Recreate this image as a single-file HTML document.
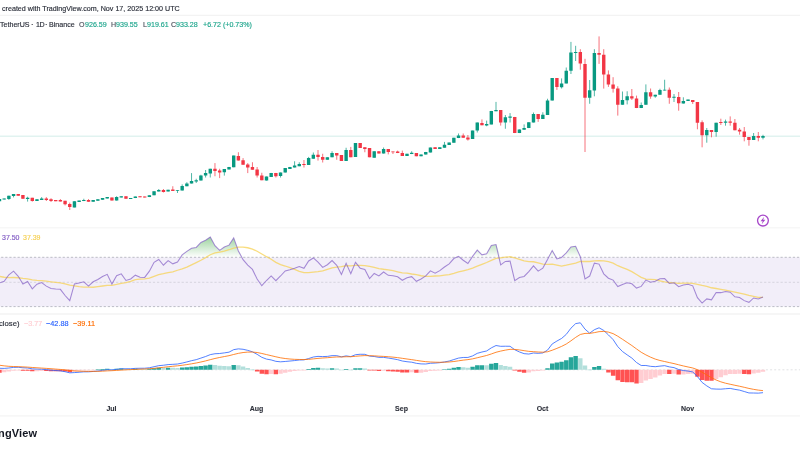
<!DOCTYPE html>
<html><head><meta charset="utf-8">
<style>
html,body{margin:0;padding:0;background:#fff;}
body{width:800px;height:450px;overflow:hidden;position:relative;font-family:"Liberation Sans",sans-serif;color:#131722;}
svg{position:absolute;left:0;top:0;}
.t{position:absolute;white-space:pre;line-height:1;will-change:transform;-webkit-text-stroke:0.15px currentColor;}
</style></head><body>
<svg width="800" height="450" viewBox="0 0 800 450">
<rect x="0" y="0" width="800" height="450" fill="#fff"/>
<line x1="0" y1="15.4" x2="800" y2="15.4" stroke="#F3F3F3" stroke-width="1.2"/>
<line x1="0" y1="227.7" x2="800" y2="227.7" stroke="#F7F7F7" stroke-width="1.6"/>
<line x1="0" y1="314.1" x2="800" y2="314.1" stroke="#F6F6F6" stroke-width="2"/>
<line x1="0" y1="415.9" x2="800" y2="415.9" stroke="#F7F7F7" stroke-width="1.8"/>
<line x1="0" y1="136.2" x2="800" y2="136.2" stroke="#089981" stroke-opacity="0.12" stroke-width="1.5"/>
<path d="M-0.50 199.00V201.30M4.18 198.40V199.50M8.87 195.70V199.90M13.55 194.00V197.40M27.60 196.70V201.60M36.97 199.20V201.00M41.66 197.10V199.90M74.44 201.20V207.40M79.13 200.60V201.90M83.81 198.75V201.10M93.18 200.10V201.75M97.86 199.20V200.80M102.55 198.00V199.80M107.23 197.10V198.60M116.60 196.25V200.60M121.28 196.25V197.50M130.65 198.10V198.75M135.34 196.50V198.10M149.39 195.25V197.10M154.07 191.25V195.25M158.76 189.00V191.50M168.12 189.75V191.50M177.49 190.00V193.00M182.18 184.40V190.60M186.86 182.20V186.25M191.54 173.10V183.50M196.23 178.75V183.00M200.91 174.75V180.60M205.60 170.00V177.50M210.28 168.75V177.50M224.33 169.10V175.60M229.02 166.90V169.40M233.70 155.60V167.25M266.49 176.50V180.60M271.17 172.90V176.90M280.54 172.50V177.50M285.22 168.10V172.60M289.91 166.90V169.00M294.59 161.25V167.50M299.28 162.25V166.25M308.64 156.90V165.00M313.33 152.50V158.75M327.38 157.25V159.75M332.06 151.25V157.25M346.12 147.75V161.00M355.48 143.10V156.90M374.22 151.25V157.75M383.59 147.50V153.60M407.01 153.75V156.00M411.69 151.25V154.10M421.06 154.40V156.25M425.74 151.90V154.60M430.43 147.50V152.50M439.80 147.25V149.00M444.48 141.90V147.75M449.16 142.50V145.00M453.85 137.75V142.75M458.53 133.50V138.10M472.58 130.60V139.00M477.27 122.50V132.50M486.64 120.60V126.25M491.32 110.90V124.40M496.00 101.90V111.25M505.37 115.00V128.75M510.06 113.10V122.50M519.42 129.40V133.10M524.11 124.40V129.75M528.79 122.25V128.10M533.48 112.50V122.50M542.84 112.25V119.00M547.53 98.75V115.00M552.21 78.10V100.60M561.58 78.40V88.50M566.26 67.50V83.40M570.95 41.90V74.00M575.63 45.80V61.00M589.68 80.00V103.75M594.37 49.20V96.30M622.47 91.50V104.75M627.16 91.25V104.40M641.21 102.50V108.10M645.89 84.40V104.75M655.26 94.75V97.75M659.94 88.75V94.75M664.63 79.75V90.60M674.00 94.00V102.00M683.36 97.30V103.60M688.05 99.60V100.90M706.78 128.00V142.70M716.15 122.70V136.70M725.52 119.60V125.70M753.62 133.00V140.00M762.99 134.80V139.40" stroke="#089981" stroke-width="1" stroke-opacity="0.7" fill="none"/>
<path d="M18.24 194.00V195.80M22.92 195.00V198.80M32.29 197.80V201.60M46.34 197.10V201.00M51.02 198.20V202.00M55.71 200.10V201.20M60.39 199.10V201.50M65.08 200.80V205.40M69.76 202.60V210.00M88.50 199.10V201.75M111.92 197.50V200.60M125.97 196.25V198.75M140.02 196.25V197.25M144.70 196.50V197.50M163.44 189.00V192.50M172.81 186.25V190.90M214.96 163.10V176.25M219.65 168.75V178.10M238.38 152.25V160.60M243.07 158.10V164.75M247.75 163.10V173.10M252.44 162.25V169.75M257.12 167.00V177.50M261.80 172.75V180.25M275.86 172.90V177.50M303.96 160.00V167.50M318.01 150.00V160.60M322.70 153.75V162.50M336.75 153.10V159.75M341.43 155.00V161.00M350.80 146.90V157.25M360.17 143.10V147.90M364.85 147.25V152.25M369.54 148.10V157.25M378.90 151.25V153.50M388.27 149.00V154.40M392.96 151.50V154.00M397.64 150.60V153.10M402.32 150.60V156.00M416.38 153.10V156.25M435.11 147.25V149.00M463.22 133.50V137.75M467.90 135.00V140.60M481.95 119.40V125.25M500.69 110.00V125.60M514.74 116.90V133.10M538.16 114.00V121.90M556.90 78.10V89.90M580.32 49.20V69.70M585.00 58.80V152.00M599.05 36.40V63.90M603.74 49.20V88.60M608.42 70.40V86.90M613.10 77.20V92.60M617.79 86.25V115.60M631.84 89.00V100.00M636.52 95.60V108.10M650.58 88.50V98.75M669.31 87.50V103.75M678.68 92.00V110.70M692.73 100.00V104.00M697.42 102.00V129.30M702.10 120.40V147.30M711.47 130.00V137.30M720.84 118.70V125.00M730.20 116.40V125.70M734.89 119.00V130.30M739.57 128.00V134.70M744.26 127.00V141.30M748.94 137.00V145.70M758.31 132.00V141.30" stroke="#F23645" stroke-width="1" stroke-opacity="0.7" fill="none"/>
<path d="M-2.20 199.00h3.4v2.30h-3.4zM2.48 198.40h3.4v1.10h-3.4zM7.17 195.70h3.4v3.30h-3.4zM11.85 194.00h3.4v2.00h-3.4zM25.90 197.80h3.4v1.20h-3.4zM35.27 199.20h3.4v1.80h-3.4zM39.96 198.50h3.4v1.40h-3.4zM72.74 201.20h3.4v6.20h-3.4zM77.43 200.60h3.4v1.30h-3.4zM82.11 200.00h3.4v1.10h-3.4zM91.48 200.10h3.4v1.65h-3.4zM96.16 199.20h3.4v1.60h-3.4zM100.85 198.00h3.4v1.80h-3.4zM105.53 197.10h3.4v1.50h-3.4zM114.90 197.10h3.4v3.50h-3.4zM119.58 196.25h3.4v1.25h-3.4zM128.95 198.10h3.4v0.80h-3.4zM133.64 196.50h3.4v1.60h-3.4zM147.69 195.25h3.4v1.85h-3.4zM152.37 191.25h3.4v4.00h-3.4zM157.06 190.00h3.4v1.50h-3.4zM166.42 189.75h3.4v1.75h-3.4zM175.79 190.00h3.4v0.80h-3.4zM180.48 185.90h3.4v4.70h-3.4zM185.16 183.40h3.4v2.85h-3.4zM189.84 181.00h3.4v2.50h-3.4zM194.53 180.25h3.4v1.25h-3.4zM199.21 175.60h3.4v5.00h-3.4zM203.90 173.10h3.4v2.50h-3.4zM208.58 168.75h3.4v4.75h-3.4zM222.63 169.10h3.4v3.15h-3.4zM227.32 166.90h3.4v2.50h-3.4zM232.00 155.60h3.4v11.65h-3.4zM264.79 176.50h3.4v4.10h-3.4zM269.47 172.90h3.4v4.00h-3.4zM278.84 172.50h3.4v3.50h-3.4zM283.52 168.10h3.4v4.50h-3.4zM288.21 166.90h3.4v2.10h-3.4zM292.89 165.60h3.4v1.90h-3.4zM297.58 164.00h3.4v2.25h-3.4zM306.94 158.10h3.4v6.90h-3.4zM311.63 154.75h3.4v4.00h-3.4zM325.68 157.25h3.4v2.50h-3.4zM330.36 153.10h3.4v4.15h-3.4zM344.42 150.00h3.4v11.00h-3.4zM353.78 143.10h3.4v13.80h-3.4zM372.52 151.25h3.4v6.50h-3.4zM381.89 148.90h3.4v4.70h-3.4zM405.31 153.75h3.4v2.25h-3.4zM409.99 152.75h3.4v1.35h-3.4zM419.36 154.40h3.4v1.85h-3.4zM424.04 151.90h3.4v2.70h-3.4zM428.73 147.50h3.4v5.00h-3.4zM438.10 147.25h3.4v1.75h-3.4zM442.78 144.75h3.4v3.00h-3.4zM447.46 142.50h3.4v2.50h-3.4zM452.15 137.75h3.4v5.00h-3.4zM456.83 135.60h3.4v2.50h-3.4zM470.88 130.60h3.4v8.40h-3.4zM475.57 122.50h3.4v8.10h-3.4zM484.94 124.10h3.4v1.50h-3.4zM489.62 110.90h3.4v13.50h-3.4zM494.30 110.00h3.4v1.25h-3.4zM503.67 117.25h3.4v5.25h-3.4zM508.36 116.50h3.4v1.25h-3.4zM517.72 129.40h3.4v3.70h-3.4zM522.41 128.10h3.4v1.65h-3.4zM527.09 122.25h3.4v5.85h-3.4zM531.78 114.10h3.4v8.40h-3.4zM541.14 114.75h3.4v4.25h-3.4zM545.83 100.40h3.4v14.60h-3.4zM550.51 78.10h3.4v22.50h-3.4zM559.88 83.40h3.4v3.90h-3.4zM564.56 70.80h3.4v12.60h-3.4zM569.25 52.60h3.4v18.20h-3.4zM573.93 51.90h3.4v1.10h-3.4zM587.98 90.25h3.4v7.50h-3.4zM592.67 53.00h3.4v37.60h-3.4zM620.77 100.00h3.4v4.75h-3.4zM625.46 96.25h3.4v4.00h-3.4zM639.51 105.00h3.4v3.10h-3.4zM644.19 92.25h3.4v12.50h-3.4zM653.56 94.75h3.4v1.75h-3.4zM658.24 90.00h3.4v4.75h-3.4zM662.93 89.75h3.4v0.85h-3.4zM672.30 96.70h3.4v1.00h-3.4zM681.66 100.90h3.4v2.70h-3.4zM686.35 99.60h3.4v1.30h-3.4zM705.08 130.00h3.4v5.30h-3.4zM714.45 122.70h3.4v9.30h-3.4zM723.82 121.60h3.4v1.10h-3.4zM751.92 136.00h3.4v4.00h-3.4zM761.29 136.00h3.4v1.70h-3.4z" fill="#089981"/>
<path d="M16.54 194.00h3.4v1.80h-3.4zM21.22 195.00h3.4v3.80h-3.4zM30.59 197.80h3.4v3.20h-3.4zM44.64 198.50h3.4v1.50h-3.4zM49.32 199.20h3.4v1.80h-3.4zM54.01 200.10h3.4v1.10h-3.4zM58.69 200.10h3.4v1.40h-3.4zM63.38 200.80h3.4v3.50h-3.4zM68.06 204.00h3.4v3.10h-3.4zM86.80 200.10h3.4v1.65h-3.4zM110.22 197.50h3.4v3.10h-3.4zM124.27 196.25h3.4v2.50h-3.4zM138.32 196.25h3.4v1.00h-3.4zM143.00 196.50h3.4v1.00h-3.4zM161.74 190.00h3.4v1.90h-3.4zM171.11 189.60h3.4v1.30h-3.4zM213.26 168.75h3.4v2.25h-3.4zM217.95 170.60h3.4v1.90h-3.4zM236.68 156.00h3.4v4.60h-3.4zM241.37 160.25h3.4v4.50h-3.4zM246.05 164.60h3.4v2.90h-3.4zM250.74 166.90h3.4v2.85h-3.4zM255.42 169.40h3.4v6.20h-3.4zM260.10 175.60h3.4v4.65h-3.4zM274.16 172.90h3.4v3.35h-3.4zM302.26 164.00h3.4v1.00h-3.4zM316.31 154.75h3.4v2.15h-3.4zM321.00 156.90h3.4v2.85h-3.4zM335.05 153.10h3.4v2.50h-3.4zM339.73 155.00h3.4v6.00h-3.4zM349.10 150.00h3.4v7.25h-3.4zM358.47 143.10h3.4v4.80h-3.4zM363.15 147.25h3.4v1.75h-3.4zM367.84 148.10h3.4v9.15h-3.4zM377.20 151.25h3.4v2.25h-3.4zM386.57 149.00h3.4v2.90h-3.4zM391.26 151.50h3.4v0.80h-3.4zM395.94 151.50h3.4v1.60h-3.4zM400.62 152.90h3.4v3.10h-3.4zM414.68 153.10h3.4v3.15h-3.4zM433.41 147.25h3.4v1.75h-3.4zM461.52 135.60h3.4v2.15h-3.4zM466.20 137.50h3.4v1.90h-3.4zM480.25 123.10h3.4v2.15h-3.4zM498.99 110.00h3.4v12.50h-3.4zM513.04 116.90h3.4v16.20h-3.4zM536.46 114.00h3.4v5.00h-3.4zM555.20 78.10h3.4v8.90h-3.4zM578.62 52.00h3.4v11.60h-3.4zM583.30 63.90h3.4v33.85h-3.4zM597.35 53.00h3.4v1.80h-3.4zM602.04 54.80h3.4v19.60h-3.4zM606.72 74.40h3.4v10.00h-3.4zM611.40 84.40h3.4v4.35h-3.4zM616.09 88.50h3.4v16.25h-3.4zM630.14 96.25h3.4v2.25h-3.4zM634.82 98.50h3.4v9.60h-3.4zM648.88 92.25h3.4v4.25h-3.4zM667.61 89.75h3.4v8.00h-3.4zM676.98 96.90h3.4v6.40h-3.4zM691.03 100.00h3.4v2.00h-3.4zM695.72 102.00h3.4v20.70h-3.4zM700.40 122.30h3.4v13.00h-3.4zM709.77 130.00h3.4v2.00h-3.4zM719.14 122.00h3.4v1.00h-3.4zM728.50 121.60h3.4v1.10h-3.4zM733.19 122.70h3.4v7.60h-3.4zM737.87 129.70h3.4v1.90h-3.4zM742.56 131.60h3.4v5.40h-3.4zM747.24 137.00h3.4v3.00h-3.4zM756.61 136.00h3.4v1.70h-3.4z" fill="#F23645"/>
<clipPath id="rp"><rect x="0" y="228" width="800" height="85"/></clipPath>
<g clip-path="url(#rp)">
<rect x="0" y="257.30" width="800" height="49.30" fill="#7E57C2" fill-opacity="0.1"/>
<linearGradient id="obg" x1="0" y1="220.32" x2="0" y2="257.30" gradientUnits="userSpaceOnUse"><stop offset="0" stop-color="#4CAF50" stop-opacity="1"/><stop offset="1" stop-color="#4CAF50" stop-opacity="0"/></linearGradient>
<linearGradient id="osg" x1="0" y1="306.60" x2="0" y2="343.57" gradientUnits="userSpaceOnUse"><stop offset="0" stop-color="#F23645" stop-opacity="0"/><stop offset="1" stop-color="#F23645" stop-opacity="1"/></linearGradient>
<polygon points="-0.50,257.30 -0.50,257.30 4.18,257.30 8.87,257.30 13.55,257.30 18.24,257.30 22.92,257.30 27.60,257.30 32.29,257.30 36.97,257.30 41.66,257.30 46.34,257.30 51.02,257.30 55.71,257.30 60.39,257.30 65.08,257.30 69.76,257.30 74.44,257.30 79.13,257.30 83.81,257.30 88.50,257.30 93.18,257.30 97.86,257.30 102.55,257.30 107.23,257.30 111.92,257.30 116.60,257.30 121.28,257.30 125.97,257.30 130.65,257.30 135.34,257.30 140.02,257.30 144.70,257.30 149.39,257.30 154.07,257.30 158.76,257.30 163.44,257.30 168.12,257.30 172.81,257.30 177.49,257.30 182.18,254.92 186.86,251.35 191.54,248.30 196.23,247.41 200.91,242.45 205.60,240.26 210.28,237.01 214.96,245.63 219.65,250.38 224.33,247.03 229.02,245.13 233.70,237.88 238.38,250.93 243.07,257.30 247.75,257.30 252.44,257.30 257.12,257.30 261.80,257.30 266.49,257.30 271.17,257.30 275.86,257.30 280.54,257.30 285.22,257.30 289.91,257.30 294.59,257.30 299.28,257.30 303.96,257.30 308.64,257.30 313.33,257.30 318.01,257.30 322.70,257.30 327.38,257.30 332.06,257.30 336.75,257.30 341.43,257.30 346.12,257.30 350.80,257.30 355.48,257.30 360.17,257.30 364.85,257.30 369.54,257.30 374.22,257.30 378.90,257.30 383.59,257.30 388.27,257.30 392.96,257.30 397.64,257.30 402.32,257.30 407.01,257.30 411.69,257.30 416.38,257.30 421.06,257.30 425.74,257.30 430.43,257.30 435.11,257.30 439.80,257.30 444.48,257.30 449.16,257.30 453.85,257.30 458.53,256.30 463.22,257.30 467.90,257.30 472.58,256.40 477.27,250.07 481.95,254.81 486.64,253.78 491.32,245.53 496.00,244.58 500.69,257.30 505.37,257.30 510.06,257.30 514.74,257.30 519.42,257.30 524.11,257.30 528.79,257.30 533.48,257.30 538.16,257.30 542.84,257.30 547.53,257.30 552.21,250.49 556.90,257.30 561.58,257.30 566.26,252.80 570.95,247.02 575.63,246.34 580.32,256.68 585.00,257.30 589.68,257.30 594.37,257.30 599.05,257.30 603.74,257.30 608.42,257.30 613.10,257.30 617.79,257.30 622.47,257.30 627.16,257.30 631.84,257.30 636.52,257.30 641.21,257.30 645.89,257.30 650.58,257.30 655.26,257.30 659.94,257.30 664.63,257.30 669.31,257.30 674.00,257.30 678.68,257.30 683.36,257.30 688.05,257.30 692.73,257.30 697.42,257.30 702.10,257.30 706.78,257.30 711.47,257.30 716.15,257.30 720.84,257.30 725.52,257.30 730.20,257.30 734.89,257.30 739.57,257.30 744.26,257.30 748.94,257.30 753.62,257.30 758.31,257.30 762.99,257.30 762.99,257.30" fill="url(#obg)"/>
<polygon points="-0.50,306.60 -0.50,306.60 4.18,306.60 8.87,306.60 13.55,306.60 18.24,306.60 22.92,306.60 27.60,306.60 32.29,306.60 36.97,306.60 41.66,306.60 46.34,306.60 51.02,306.60 55.71,306.60 60.39,306.60 65.08,306.60 69.76,306.60 74.44,306.60 79.13,306.60 83.81,306.60 88.50,306.60 93.18,306.60 97.86,306.60 102.55,306.60 107.23,306.60 111.92,306.60 116.60,306.60 121.28,306.60 125.97,306.60 130.65,306.60 135.34,306.60 140.02,306.60 144.70,306.60 149.39,306.60 154.07,306.60 158.76,306.60 163.44,306.60 168.12,306.60 172.81,306.60 177.49,306.60 182.18,306.60 186.86,306.60 191.54,306.60 196.23,306.60 200.91,306.60 205.60,306.60 210.28,306.60 214.96,306.60 219.65,306.60 224.33,306.60 229.02,306.60 233.70,306.60 238.38,306.60 243.07,306.60 247.75,306.60 252.44,306.60 257.12,306.60 261.80,306.60 266.49,306.60 271.17,306.60 275.86,306.60 280.54,306.60 285.22,306.60 289.91,306.60 294.59,306.60 299.28,306.60 303.96,306.60 308.64,306.60 313.33,306.60 318.01,306.60 322.70,306.60 327.38,306.60 332.06,306.60 336.75,306.60 341.43,306.60 346.12,306.60 350.80,306.60 355.48,306.60 360.17,306.60 364.85,306.60 369.54,306.60 374.22,306.60 378.90,306.60 383.59,306.60 388.27,306.60 392.96,306.60 397.64,306.60 402.32,306.60 407.01,306.60 411.69,306.60 416.38,306.60 421.06,306.60 425.74,306.60 430.43,306.60 435.11,306.60 439.80,306.60 444.48,306.60 449.16,306.60 453.85,306.60 458.53,306.60 463.22,306.60 467.90,306.60 472.58,306.60 477.27,306.60 481.95,306.60 486.64,306.60 491.32,306.60 496.00,306.60 500.69,306.60 505.37,306.60 510.06,306.60 514.74,306.60 519.42,306.60 524.11,306.60 528.79,306.60 533.48,306.60 538.16,306.60 542.84,306.60 547.53,306.60 552.21,306.60 556.90,306.60 561.58,306.60 566.26,306.60 570.95,306.60 575.63,306.60 580.32,306.60 585.00,306.60 589.68,306.60 594.37,306.60 599.05,306.60 603.74,306.60 608.42,306.60 613.10,306.60 617.79,306.60 622.47,306.60 627.16,306.60 631.84,306.60 636.52,306.60 641.21,306.60 645.89,306.60 650.58,306.60 655.26,306.60 659.94,306.60 664.63,306.60 669.31,306.60 674.00,306.60 678.68,306.60 683.36,306.60 688.05,306.60 692.73,306.60 697.42,306.60 702.10,306.60 706.78,306.60 711.47,306.60 716.15,306.60 720.84,306.60 725.52,306.60 730.20,306.60 734.89,306.60 739.57,306.60 744.26,306.60 748.94,306.60 753.62,306.60 758.31,306.60 762.99,306.60 762.99,306.60" fill="url(#osg)"/>
<line x1="0" y1="257.30" x2="800" y2="257.30" stroke="#9598A1" stroke-width="1" stroke-dasharray="2.2 1.902" stroke-dashoffset="-1.15" stroke-opacity="0.6"/>
<line x1="0" y1="282.3" x2="800" y2="282.3" stroke="#9598A1" stroke-width="1" stroke-dasharray="2.2 1.902" stroke-dashoffset="-1.15" stroke-opacity="0.3"/>
<line x1="0" y1="306.60" x2="800" y2="306.60" stroke="#9598A1" stroke-width="1" stroke-dasharray="2.2 1.902" stroke-dashoffset="-1.15" stroke-opacity="0.6"/>
<polyline points="-0.50,276.41 4.18,277.24 8.87,277.54 13.55,277.50 18.24,277.75 22.92,278.47 27.60,278.95 32.29,279.87 36.97,280.39 41.66,280.71 46.34,281.22 51.02,281.81 55.71,282.37 60.39,282.88 65.08,283.78 69.76,285.17 74.44,285.82 79.13,286.66 83.81,287.06 88.50,287.21 93.18,287.23 97.86,286.57 102.55,286.02 107.23,285.43 111.92,285.29 116.60,284.37 121.28,283.29 125.97,282.66 130.65,281.48 135.34,279.66 140.02,279.18 144.70,278.79 149.39,278.02 154.07,276.32 158.76,274.73 163.44,273.71 168.12,272.58 172.81,271.83 177.49,270.25 182.18,268.77 186.86,267.16 191.54,264.86 196.23,262.61 200.91,260.28 205.60,257.63 210.28,254.74 214.96,252.92 219.65,252.07 224.33,251.18 229.02,249.74 233.70,248.12 238.38,247.19 243.07,247.03 247.75,247.75 252.44,249.04 257.12,251.24 261.80,253.98 266.49,256.69 271.17,259.24 275.86,262.37 280.54,264.54 285.22,266.01 289.91,267.62 294.59,269.28 299.28,271.32 303.96,272.56 308.64,272.65 313.33,272.14 318.01,271.62 322.70,270.79 327.38,269.29 332.06,267.86 336.75,267.10 341.43,266.66 346.12,265.76 350.80,265.95 355.48,265.42 360.17,265.42 364.85,265.64 369.54,266.37 374.22,267.26 378.90,268.54 383.59,269.25 388.27,269.81 392.96,270.60 397.64,271.76 402.32,272.83 407.01,273.06 411.69,274.00 416.38,274.55 421.06,275.74 425.74,276.29 430.43,276.39 435.11,276.00 439.80,275.80 444.48,275.17 449.16,274.58 453.85,273.38 458.53,271.99 463.22,270.82 467.90,269.61 472.58,268.09 477.27,266.19 481.95,264.30 486.64,262.50 491.32,260.34 496.00,258.46 500.69,257.87 505.37,257.21 510.06,256.78 514.74,257.99 519.42,259.35 524.11,260.79 528.79,261.60 533.48,261.77 538.16,262.83 542.84,264.12 547.53,264.45 552.21,264.22 556.90,265.17 561.58,266.09 566.26,265.23 570.95,264.20 575.63,263.14 580.32,261.43 585.00,261.52 589.68,261.49 594.37,260.88 599.05,260.76 603.74,260.95 608.42,261.67 613.10,263.14 617.79,265.72 622.47,267.55 627.16,269.36 631.84,271.58 636.52,274.51 641.21,277.37 645.89,279.04 650.58,279.28 655.26,279.65 659.94,280.77 664.63,281.81 669.31,282.50 674.00,282.82 678.68,283.30 683.36,283.19 688.05,283.17 692.73,283.39 697.42,284.38 702.10,285.45 706.78,286.34 711.47,287.75 716.15,288.49 720.84,289.30 725.52,290.20 730.20,291.17 734.89,292.12 739.57,293.18 744.26,294.17 748.94,295.39 753.62,296.38 758.31,297.32 762.99,297.28" fill="none" stroke="#F7D154" stroke-opacity="0.75" stroke-width="1.3"/>
<polyline points="-0.50,282.86 4.18,281.32 8.87,274.81 13.55,271.14 18.24,276.31 22.92,283.95 27.60,281.46 32.29,288.85 36.97,284.24 41.66,282.49 46.34,286.12 51.02,288.48 55.71,288.96 60.39,289.32 65.08,295.53 69.76,300.64 74.44,283.97 79.13,282.93 83.81,281.84 88.50,286.10 93.18,281.79 97.86,279.52 102.55,276.53 107.23,274.33 111.92,284.09 116.60,275.69 121.28,273.84 125.97,280.50 130.65,278.93 135.34,275.15 140.02,277.31 144.70,277.42 149.39,271.13 154.07,262.28 158.76,259.54 163.44,265.24 168.12,260.64 172.81,263.83 177.49,262.06 182.18,254.92 186.86,251.35 191.54,248.30 196.23,247.41 200.91,242.45 205.60,240.26 210.28,237.01 214.96,245.63 219.65,250.38 224.33,247.03 229.02,245.13 233.70,237.88 238.38,250.93 243.07,259.71 247.75,265.08 252.44,269.40 257.12,279.09 261.80,285.68 266.49,280.51 271.17,275.96 275.86,280.72 280.54,275.99 285.22,270.98 289.91,269.68 294.59,268.24 299.28,266.46 303.96,268.34 308.64,260.96 313.33,257.94 318.01,262.13 322.70,267.44 327.38,264.70 332.06,260.53 336.75,265.31 341.43,274.54 346.12,263.39 350.80,273.60 355.48,262.35 360.17,268.17 364.85,269.48 369.54,278.59 374.22,273.47 378.90,275.88 383.59,271.98 388.27,275.34 392.96,275.74 397.64,276.77 402.32,280.28 407.01,277.76 411.69,276.62 416.38,281.26 421.06,278.95 425.74,275.88 430.43,270.87 435.11,273.20 439.80,270.65 444.48,267.04 449.16,263.81 453.85,258.53 458.53,256.30 463.22,260.26 467.90,263.44 472.58,256.40 477.27,250.07 481.95,254.81 486.64,253.78 491.32,245.53 496.00,244.58 500.69,264.91 505.37,261.40 510.06,261.13 514.74,280.69 519.42,277.56 524.11,276.46 528.79,271.67 533.48,265.84 538.16,271.16 542.84,268.11 547.53,259.54 552.21,250.49 556.90,258.89 561.58,257.43 566.26,252.80 570.95,247.02 575.63,246.34 580.32,256.68 585.00,278.87 589.68,276.04 594.37,263.14 599.05,264.09 603.74,273.83 608.42,278.23 613.10,280.11 617.79,286.59 622.47,284.49 627.16,282.81 631.84,283.82 636.52,288.07 641.21,286.43 645.89,280.06 650.58,282.18 655.26,281.28 659.94,278.78 664.63,278.65 669.31,283.45 674.00,282.80 678.68,286.77 683.36,285.11 688.05,284.18 692.73,285.83 697.42,297.67 702.10,303.11 706.78,298.89 711.47,299.80 716.15,292.47 720.84,292.64 725.52,291.49 730.20,292.18 734.89,296.77 739.57,297.53 744.26,300.64 748.94,302.31 753.62,297.98 758.31,299.05 762.99,297.10" fill="none" stroke="#7E57C2" stroke-opacity="0.68" stroke-width="1.05"/>
</g>
<clipPath id="mp"><rect x="0" y="314" width="800" height="101"/></clipPath>
<g clip-path="url(#mp)">
<line x1="0" y1="369.8" x2="800" y2="369.8" stroke="#9598A1" stroke-width="0.8" stroke-dasharray="2 2.11" stroke-dashoffset="-1.5" stroke-opacity="0.35"/>
<path d="M95.66 369.47h4.4v0.60h-4.4zM100.35 369.06h4.4v0.74h-4.4zM105.03 368.69h4.4v1.11h-4.4zM114.40 368.75h4.4v1.05h-4.4zM119.08 368.50h4.4v1.30h-4.4zM133.14 368.80h4.4v1.00h-4.4zM147.19 368.86h4.4v0.94h-4.4zM151.87 368.19h4.4v1.61h-4.4zM156.56 367.68h4.4v2.12h-4.4zM165.92 367.64h4.4v2.16h-4.4zM179.98 367.61h4.4v2.19h-4.4zM184.66 367.14h4.4v2.66h-4.4zM189.34 366.66h4.4v3.14h-4.4zM194.03 366.47h4.4v3.33h-4.4zM198.71 365.89h4.4v3.91h-4.4zM203.40 365.42h4.4v4.38h-4.4zM208.08 364.78h4.4v5.02h-4.4zM231.50 364.98h4.4v4.82h-4.4zM306.44 369.01h4.4v0.79h-4.4zM311.13 367.94h4.4v1.86h-4.4zM315.81 367.80h4.4v2.00h-4.4zM329.86 368.14h4.4v1.66h-4.4zM343.92 368.95h4.4v0.85h-4.4zM353.28 368.19h4.4v1.61h-4.4zM357.97 368.17h4.4v1.63h-4.4zM442.28 369.52h4.4v0.60h-4.4zM446.96 368.86h4.4v0.94h-4.4zM451.65 367.85h4.4v1.95h-4.4zM456.33 367.07h4.4v2.73h-4.4zM470.38 366.84h4.4v2.96h-4.4zM475.07 365.37h4.4v4.43h-4.4zM479.75 365.20h4.4v4.60h-4.4zM489.12 363.71h4.4v6.09h-4.4zM493.80 363.05h4.4v6.75h-4.4zM545.33 368.15h4.4v1.65h-4.4zM550.01 363.52h4.4v6.28h-4.4zM554.70 362.47h4.4v7.33h-4.4zM559.38 361.85h4.4v7.95h-4.4zM564.06 360.19h4.4v9.61h-4.4zM568.75 357.13h4.4v12.67h-4.4zM573.43 356.03h4.4v13.77h-4.4zM592.17 366.88h4.4v2.92h-4.4zM596.85 365.92h4.4v3.88h-4.4z" fill="#26A69A"/><path d="M109.72 369.03h4.4v0.77h-4.4zM123.77 368.78h4.4v1.02h-4.4zM128.45 368.91h4.4v0.89h-4.4zM137.82 368.90h4.4v0.90h-4.4zM142.50 369.06h4.4v0.74h-4.4zM161.24 367.78h4.4v2.02h-4.4zM170.61 367.87h4.4v1.93h-4.4zM175.29 368.01h4.4v1.79h-4.4zM212.76 365.07h4.4v4.73h-4.4zM217.45 365.83h4.4v3.97h-4.4zM222.13 366.12h4.4v3.68h-4.4zM226.82 366.28h4.4v3.52h-4.4zM236.18 365.32h4.4v4.48h-4.4zM240.87 366.54h4.4v3.26h-4.4zM245.55 368.05h4.4v1.75h-4.4zM250.24 369.59h4.4v0.60h-4.4zM320.50 368.35h4.4v1.45h-4.4zM325.18 368.50h4.4v1.30h-4.4zM334.55 368.50h4.4v1.30h-4.4zM339.23 369.73h4.4v0.60h-4.4zM348.60 369.73h4.4v0.60h-4.4zM362.65 368.53h4.4v1.27h-4.4zM461.02 367.13h4.4v2.67h-4.4zM465.70 367.64h4.4v2.16h-4.4zM484.44 365.29h4.4v4.51h-4.4zM498.49 365.04h4.4v4.76h-4.4zM503.17 365.91h4.4v3.89h-4.4zM507.86 366.73h4.4v3.07h-4.4zM578.12 358.14h4.4v11.66h-4.4zM582.80 365.55h4.4v4.25h-4.4zM587.48 369.62h4.4v0.60h-4.4zM601.54 368.84h4.4v0.96h-4.4z" fill="#B2DFDB"/><path d="M1.98 369.80h4.4v2.54h-4.4zM6.67 369.80h4.4v1.71h-4.4zM11.35 369.80h4.4v0.88h-4.4zM16.04 369.80h4.4v0.61h-4.4zM34.77 369.80h4.4v1.33h-4.4zM39.46 369.80h4.4v1.16h-4.4zM72.24 369.80h4.4v1.68h-4.4zM76.93 369.80h4.4v1.07h-4.4zM81.61 369.80h4.4v0.60h-4.4zM86.30 369.80h4.4v0.60h-4.4zM90.98 369.80h4.4v0.60h-4.4zM268.97 369.80h4.4v4.27h-4.4zM278.34 369.80h4.4v4.02h-4.4zM283.02 369.80h4.4v2.93h-4.4zM287.71 369.80h4.4v2.01h-4.4zM292.39 369.80h4.4v1.23h-4.4zM297.08 369.80h4.4v0.60h-4.4zM301.76 369.80h4.4v0.60h-4.4zM381.39 369.80h4.4v0.97h-4.4zM409.49 369.80h4.4v2.56h-4.4zM418.86 369.80h4.4v2.84h-4.4zM423.54 369.80h4.4v2.32h-4.4zM428.23 369.80h4.4v1.28h-4.4zM432.91 369.80h4.4v0.87h-4.4zM437.60 369.80h4.4v0.60h-4.4zM526.59 369.80h4.4v2.72h-4.4zM531.28 369.80h4.4v1.34h-4.4zM535.96 369.80h4.4v1.32h-4.4zM540.64 369.80h4.4v0.75h-4.4zM639.01 369.80h4.4v13.27h-4.4zM643.69 369.80h4.4v10.60h-4.4zM648.38 369.80h4.4v9.15h-4.4zM653.06 369.80h4.4v7.61h-4.4zM657.74 369.80h4.4v5.63h-4.4zM662.43 369.80h4.4v4.14h-4.4zM671.80 369.80h4.4v4.04h-4.4zM681.16 369.80h4.4v4.61h-4.4zM685.85 369.80h4.4v4.12h-4.4zM690.53 369.80h4.4v3.99h-4.4zM713.95 369.80h4.4v9.10h-4.4zM718.64 369.80h4.4v7.34h-4.4zM723.32 369.80h4.4v5.53h-4.4zM728.00 369.80h4.4v4.15h-4.4zM732.69 369.80h4.4v4.09h-4.4zM737.37 369.80h4.4v3.89h-4.4zM751.42 369.80h4.4v3.68h-4.4zM756.11 369.80h4.4v3.04h-4.4zM760.79 369.80h4.4v2.04h-4.4z" fill="#FFCDD2"/><path d="M-2.70 369.80h4.4v3.06h-4.4zM20.72 369.80h4.4v0.89h-4.4zM25.40 369.80h4.4v0.90h-4.4zM30.09 369.80h4.4v1.36h-4.4zM44.14 369.80h4.4v1.23h-4.4zM48.82 369.80h4.4v1.37h-4.4zM53.51 369.80h4.4v1.43h-4.4zM58.19 369.80h4.4v1.44h-4.4zM62.88 369.80h4.4v1.80h-4.4zM67.56 369.80h4.4v2.36h-4.4zM254.92 369.80h4.4v1.81h-4.4zM259.60 369.80h4.4v3.85h-4.4zM264.29 369.80h4.4v4.50h-4.4zM273.66 369.80h4.4v4.54h-4.4zM367.34 369.80h4.4v0.60h-4.4zM372.02 369.80h4.4v0.65h-4.4zM376.70 369.80h4.4v1.24h-4.4zM386.07 369.80h4.4v1.33h-4.4zM390.76 369.80h4.4v1.65h-4.4zM395.44 369.80h4.4v2.02h-4.4zM400.12 369.80h4.4v2.69h-4.4zM404.81 369.80h4.4v2.73h-4.4zM414.18 369.80h4.4v2.94h-4.4zM512.54 369.80h4.4v0.60h-4.4zM517.22 369.80h4.4v2.02h-4.4zM521.91 369.80h4.4v2.98h-4.4zM606.22 369.80h4.4v2.78h-4.4zM610.90 369.80h4.4v5.98h-4.4zM615.59 369.80h4.4v10.42h-4.4zM620.27 369.80h4.4v12.25h-4.4zM624.96 369.80h4.4v12.46h-4.4zM629.64 369.80h4.4v12.53h-4.4zM634.32 369.80h4.4v13.59h-4.4zM667.11 369.80h4.4v4.27h-4.4zM676.48 369.80h4.4v4.73h-4.4zM695.22 369.80h4.4v6.85h-4.4zM699.90 369.80h4.4v10.19h-4.4zM704.58 369.80h4.4v10.92h-4.4zM709.27 369.80h4.4v11.06h-4.4zM742.06 369.80h4.4v4.23h-4.4zM746.74 369.80h4.4v4.51h-4.4z" fill="#FF5252"/>
<polyline points="-0.50,368.30 4.18,368.41 8.87,368.01 13.55,367.40 18.24,367.28 22.92,367.79 27.60,368.02 32.29,368.82 36.97,369.12 41.66,369.24 46.34,369.61 51.02,370.10 55.71,370.52 60.39,370.89 65.08,371.70 69.76,372.84 74.44,372.59 79.13,372.24 83.81,371.83 88.50,371.82 93.18,371.47 97.86,371.01 102.55,370.41 107.23,369.76 111.92,369.91 116.60,369.37 121.28,368.79 125.97,368.82 130.65,368.73 135.34,368.37 140.02,368.25 144.70,368.22 149.39,367.78 154.07,366.71 158.76,365.67 163.44,365.26 168.12,364.59 172.81,364.33 177.49,364.03 182.18,363.08 186.86,361.94 191.54,360.68 196.23,359.66 200.91,358.09 205.60,356.53 210.28,354.63 214.96,353.74 219.65,353.51 224.33,352.88 229.02,352.16 233.70,349.65 238.38,348.87 243.07,349.28 247.75,350.35 252.44,351.84 257.12,354.32 261.80,357.31 266.49,359.09 271.17,359.93 275.86,361.33 280.54,361.82 285.22,361.46 289.91,361.04 294.59,360.57 299.28,360.00 303.96,359.86 308.64,358.56 313.33,357.03 318.01,356.39 322.70,356.58 327.38,356.40 332.06,355.63 336.75,355.66 341.43,356.87 346.12,355.88 350.80,356.64 355.48,354.71 360.17,354.27 364.85,354.32 369.54,356.09 374.22,356.50 378.90,357.39 383.59,357.37 388.27,358.06 392.96,358.80 397.64,359.66 402.32,361.01 407.01,361.73 411.69,362.20 416.38,363.32 421.06,363.92 425.74,363.99 430.43,363.27 435.11,363.07 439.80,362.66 444.48,361.94 449.16,361.05 453.85,359.55 458.53,358.08 463.22,357.47 467.90,357.45 472.58,355.91 477.27,353.33 481.95,352.01 486.64,350.97 491.32,347.87 496.00,345.52 500.69,346.32 505.37,346.22 510.06,346.27 514.74,349.72 519.42,351.95 524.11,353.65 528.79,354.06 533.48,353.03 538.16,353.33 542.84,352.95 547.53,350.14 552.21,343.94 556.90,341.06 561.58,338.45 566.26,334.38 570.95,328.16 575.63,323.62 580.32,322.81 585.00,329.16 589.68,333.18 594.37,329.71 599.05,327.79 603.74,330.46 608.42,334.90 613.10,339.59 617.79,346.64 622.47,351.53 627.16,354.86 631.84,358.06 636.52,362.52 641.21,365.51 645.89,365.49 650.58,366.33 655.26,366.70 659.94,366.12 664.63,365.66 669.31,366.86 674.00,367.64 678.68,369.52 683.36,370.54 688.05,371.09 692.73,371.96 697.42,376.53 702.10,382.41 706.78,385.88 711.47,388.79 716.15,389.09 720.84,389.17 725.52,388.74 730.20,388.40 734.89,389.36 739.57,390.13 744.26,391.52 748.94,392.94 753.62,393.02 758.31,393.15 762.99,392.66" fill="none" stroke="#2962FF" stroke-opacity="0.8" stroke-width="1"/>
<polyline points="-0.50,365.23 4.18,365.87 8.87,366.30 13.55,366.52 18.24,366.67 22.92,366.89 27.60,367.12 32.29,367.46 36.97,367.79 41.66,368.08 46.34,368.39 51.02,368.73 55.71,369.09 60.39,369.45 65.08,369.90 69.76,370.49 74.44,370.91 79.13,371.18 83.81,371.31 88.50,371.41 93.18,371.42 97.86,371.34 102.55,371.15 107.23,370.87 111.92,370.68 116.60,370.42 121.28,370.10 125.97,369.84 130.65,369.62 135.34,369.37 140.02,369.15 144.70,368.96 149.39,368.72 154.07,368.32 158.76,367.79 163.44,367.29 168.12,366.75 172.81,366.26 177.49,365.82 182.18,365.27 186.86,364.60 191.54,363.82 196.23,362.99 200.91,362.01 205.60,360.91 210.28,359.66 214.96,358.47 219.65,357.48 224.33,356.56 229.02,355.68 233.70,354.47 238.38,353.35 243.07,352.54 247.75,352.10 252.44,352.05 257.12,352.50 261.80,353.46 266.49,354.59 271.17,355.66 275.86,356.79 280.54,357.80 285.22,358.53 289.91,359.03 294.59,359.34 299.28,359.47 303.96,359.55 308.64,359.35 313.33,358.89 318.01,358.39 322.70,358.03 327.38,357.70 332.06,357.29 336.75,356.96 341.43,356.94 346.12,356.73 350.80,356.71 355.48,356.31 360.17,355.90 364.85,355.59 369.54,355.69 374.22,355.85 378.90,356.16 383.59,356.40 388.27,356.73 392.96,357.14 397.64,357.65 402.32,358.32 407.01,359.00 411.69,359.64 416.38,360.38 421.06,361.09 425.74,361.67 430.43,361.99 435.11,362.20 439.80,362.29 444.48,362.22 449.16,361.99 453.85,361.50 458.53,360.82 463.22,360.15 467.90,359.61 472.58,358.87 477.27,357.76 481.95,356.61 486.64,355.48 491.32,353.96 496.00,352.27 500.69,351.08 505.37,350.11 510.06,349.34 514.74,349.42 519.42,349.92 524.11,350.67 528.79,351.35 533.48,351.68 538.16,352.01 542.84,352.20 547.53,351.79 552.21,350.22 556.90,348.39 561.58,346.40 566.26,344.00 570.95,340.83 575.63,337.39 580.32,334.47 585.00,333.41 589.68,333.36 594.37,332.63 599.05,331.66 603.74,331.42 608.42,332.12 613.10,333.61 617.79,336.22 622.47,339.28 627.16,342.40 631.84,345.53 636.52,348.93 641.21,352.25 645.89,354.89 650.58,357.18 655.26,359.08 659.94,360.49 664.63,361.53 669.31,362.59 674.00,363.60 678.68,364.79 683.36,365.94 688.05,366.97 692.73,367.97 697.42,369.68 702.10,372.23 706.78,374.96 711.47,377.72 716.15,380.00 720.84,381.83 725.52,383.21 730.20,384.25 734.89,385.27 739.57,386.24 744.26,387.30 748.94,388.43 753.62,389.35 758.31,390.11 762.99,390.62" fill="none" stroke="#FF6D00" stroke-opacity="0.8" stroke-width="1"/>
</g>
<g transform="translate(762.95 220.6)">
<circle r="5.4" fill="none" stroke="#A646C9" stroke-width="1.3"/>
<path d="M1.3 -3.8 L-2.4 0.7 H-0.2 L-1.4 3.8 L2.4 -0.8 H0.2 Z" fill="#A646C9"/>
</g>
</svg>
<div class="t" style="left:2px;top:6.2px;font-size:7.15px;color:#2A2E39;">created with TradingView.com, Nov 17, 2025 12:00 UTC</div>
<div class="t" style="left:0px;top:21.5px;font-size:7.1px;color:#2A2E39;">TetherUS</div>
<div class="t" style="left:31.2px;top:21.5px;font-size:7.1px;color:#2A2E39;">·</div>
<div class="t" style="left:35.6px;top:21.5px;font-size:7.1px;color:#2A2E39;letter-spacing:-0.5px">1D</div>
<div class="t" style="left:45.0px;top:21.5px;font-size:7.1px;color:#2A2E39;">·</div>
<div class="t" style="left:49.3px;top:21.5px;font-size:7.1px;color:#2A2E39;">Binance</div>
<div class="t" style="left:79.2px;top:21.5px;font-size:7.1px;color:#50535E;">O</div>
<div class="t" style="left:84.6px;top:21.5px;font-size:7.1px;color:#1EA58C;">926.59</div>
<div class="t" style="left:111.1px;top:21.5px;font-size:7.1px;color:#50535E;">H</div>
<div class="t" style="left:116.3px;top:21.5px;font-size:7.1px;color:#1EA58C;">939.55</div>
<div class="t" style="left:143.0px;top:21.5px;font-size:7.1px;color:#50535E;">L</div>
<div class="t" style="left:147.2px;top:21.5px;font-size:7.1px;color:#1EA58C;">919.61</div>
<div class="t" style="left:171.0px;top:21.5px;font-size:7.1px;color:#50535E;">C</div>
<div class="t" style="left:176.2px;top:21.5px;font-size:7.1px;color:#1EA58C;">933.28</div>
<div class="t" style="left:202.8px;top:21.5px;font-size:7.1px;color:#1EA58C;">+6.72 (+0.73%)</div>
<div class="t" style="left:1.6px;top:234px;font-size:7.0px;color:#7E57C2;">37.50</div>
<div class="t" style="left:23.2px;top:234px;font-size:7.0px;color:#F5CF50;">37.39</div>
<div class="t" style="left:-0.9px;top:319.8px;font-size:7.7px;color:#2A2E39;">close)</div>
<div class="t" style="left:23.5px;top:320px;font-size:7.2px;color:#FFCDD2;">−3.77</div>
<div class="t" style="left:45.8px;top:320px;font-size:7.3px;color:#2962FF;">−42.88</div>
<div class="t" style="left:72.9px;top:320px;font-size:7.3px;color:#FF6D00;">−39.11</div>
<div class="t" style="left:103.8px;top:405px;font-size:7px;color:#2E313B;font-weight:bold;width:15px;text-align:center;-webkit-text-stroke:0.12px currentColor">Jul</div>
<div class="t" style="left:249.10000000000002px;top:405px;font-size:7px;color:#2E313B;font-weight:bold;width:15px;text-align:center;-webkit-text-stroke:0.12px currentColor">Aug</div>
<div class="t" style="left:394.4px;top:405px;font-size:7px;color:#2E313B;font-weight:bold;width:15px;text-align:center;-webkit-text-stroke:0.12px currentColor">Sep</div>
<div class="t" style="left:535.0px;top:405px;font-size:7px;color:#2E313B;font-weight:bold;width:15px;text-align:center;-webkit-text-stroke:0.12px currentColor">Oct</div>
<div class="t" style="left:680.4px;top:405px;font-size:7px;color:#2E313B;font-weight:bold;width:15px;text-align:center;-webkit-text-stroke:0.12px currentColor">Nov</div>
<div class="t" style="left:-28.6px;top:427.6px;font-size:11px;color:#131722;font-weight:bold;letter-spacing:0.15px;-webkit-text-stroke:0">TradingView</div>
</body></html>
